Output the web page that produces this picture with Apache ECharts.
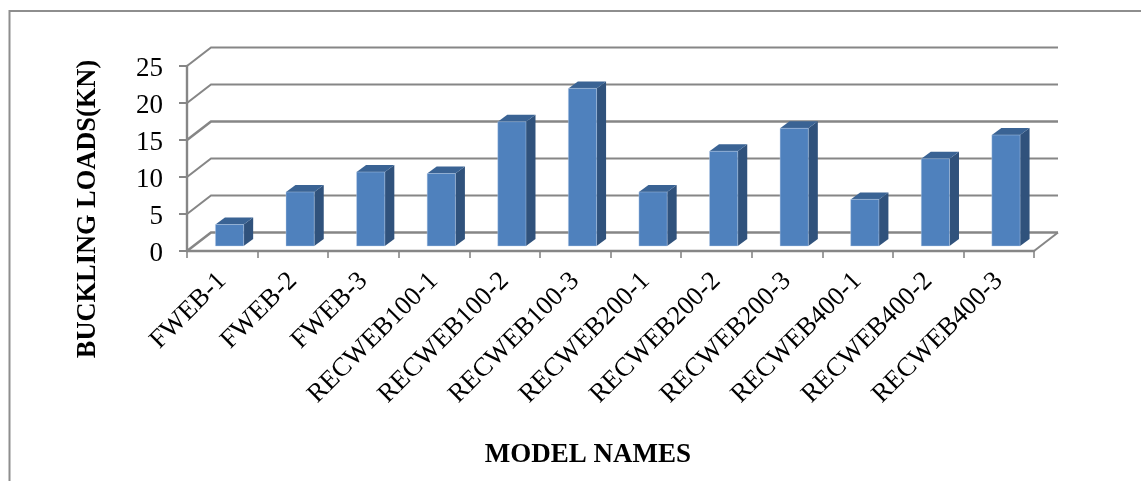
<!DOCTYPE html>
<html>
<head>
<meta charset="utf-8">
<style>html,body{margin:0;padding:0;background:#fff}#chart{width:1141px;height:481px}</style>
<script src="https://cdn.jsdelivr.net/npm/echarts@6/dist/echarts.min.js"></script>
</head>
<body>
<div id="chart"></div>
<script>
const modelNames = ['FWEB-1','FWEB-2','FWEB-3','RECWEB100-1','RECWEB100-2','RECWEB100-3',
  'RECWEB200-1','RECWEB200-2','RECWEB200-3','RECWEB400-1','RECWEB400-2','RECWEB400-3'];
const bucklingLoads = [2.9, 7.3, 10.0, 9.8, 16.8, 21.3, 7.3, 12.8, 15.9, 6.3, 11.8, 15.0];
const yTicks = [0, 5, 10, 15, 20, 25];

// Oblique projection of the 3D box: depth of the walls and of each bar
const WALL_DX = 24, WALL_DY = 18.5;
const BAR_DX = 9.5, BAR_DY = 7;
const GAP_DX = 7.25, GAP_DY = 5;

const GRID_COLOR = '#868686';
const SERIF = '"Liberation Serif","Times New Roman",serif';

function wallItem(params, api) {
  const v = api.value(0);
  const cs = params.coordSys;
  const y = api.coord([0, v])[1];
  const left = cs.x, right = cs.x + cs.width;
  const style = { stroke: GRID_COLOR, lineWidth: v === 15 || v === 0 ? 2.6 : 2, fill: null };
  const children = [
    { type: 'polyline', shape: { points: [[left, y], [left + WALL_DX, y - WALL_DY], [right + WALL_DX, y - WALL_DY]] }, style }
  ];
  if (v === 0) {
    children.push({ type: 'line', shape: { x1: right, y1: y, x2: right + WALL_DX, y2: y - WALL_DY }, style: { stroke: GRID_COLOR, lineWidth: 2 } });
  }
  return { type: 'group', children };
}

function barItem(params, api) {
  const idx = api.value(0);
  const base = api.coord([idx, 0]);
  const top = api.coord([idx, api.value(1)]);
  const w = api.size([1, 0])[0] * 0.4;
  const x0 = base[0] - w / 2 + GAP_DX, x1 = x0 + w;
  const y0 = base[1] - GAP_DY, y1 = top[1] - GAP_DY;
  return {
    type: 'group',
    children: [
      { type: 'polygon', shape: { points: [[x1, y1], [x1 + BAR_DX, y1 - BAR_DY], [x1 + BAR_DX, y0 - BAR_DY], [x1, y0]] },
        style: { fill: '#30527C' } },
      { type: 'polygon', shape: { points: [[x0, y1], [x0 + BAR_DX, y1 - BAR_DY], [x1 + BAR_DX, y1 - BAR_DY], [x1, y1]] },
        style: { fill: '#3A6394' } },
      { type: 'rect', shape: { x: x0, y: y1, width: w, height: y0 - y1 },
        style: { fill: '#4F81BD', stroke: 'rgba(190,210,235,0.5)', lineWidth: 0.8 } }
    ]
  };
}

const chart = echarts.init(document.getElementById('chart'), null, { renderer: 'canvas' });
chart.setOption({
  animation: false,
  backgroundColor: '#fff',
  grid: { left: 187, top: 66, width: 847, height: 185, containLabel: false },
  xAxis: {
    type: 'category',
    data: modelNames,
    axisLine: { lineStyle: { color: GRID_COLOR, width: 2.4 } },
    axisTick: { show: true, alignWithLabel: false, length: 7, lineStyle: { color: GRID_COLOR, width: 1.6 } },
    axisLabel: { interval: 0, rotate: 45, margin: 26, color: '#000', fontFamily: SERIF, fontSize: 26.5 },
    splitLine: { show: false }
  },
  yAxis: {
    type: 'value',
    min: 0, max: 25, interval: 5,
    axisLine: { show: true, lineStyle: { color: GRID_COLOR, width: 2.4 } },
    axisTick: { show: true, length: 8, lineStyle: { color: GRID_COLOR, width: 2 } },
    axisLabel: {
      margin: 24,
      formatter: '{tick|{value}}',
      rich: { tick: { padding: [5, 0, 0, 0], color: '#000', fontFamily: SERIF, fontSize: 27 } }
    },
    splitLine: { show: false }
  },
  graphic: [
    { type: 'polyline', silent: true, shape: { points: [[9.5, 481], [9.5, 11], [1141, 11]] },
      style: { stroke: '#8E8E8E', lineWidth: 2, fill: null } },
    { type: 'text', x: 88, y: 209, rotation: Math.PI / 2, silent: true,
      style: { text: 'BUCKLING LOADS(KN)', fill: '#000', font: 'bold 26.4px ' + SERIF, textAlign: 'center', textVerticalAlign: 'middle' } },
    { type: 'text', x: 588, y: 455, silent: true,
      style: { text: 'MODEL NAMES', fill: '#000', font: 'bold 27px ' + SERIF, textAlign: 'center', textVerticalAlign: 'middle' } }
  ],
  series: [
    { type: 'custom', name: 'walls', coordinateSystem: 'cartesian2d', renderItem: wallItem, silent: true, z: 1,
      encode: { y: 0 }, data: yTicks.map(v => [v]), clip: false },
    { type: 'custom', name: 'Buckling load', coordinateSystem: 'cartesian2d', renderItem: barItem, z: 2,
      encode: { x: 0, y: 1 }, data: bucklingLoads.map((v, i) => [i, v]), clip: false }
  ]
});
</script>
</body>
</html>
